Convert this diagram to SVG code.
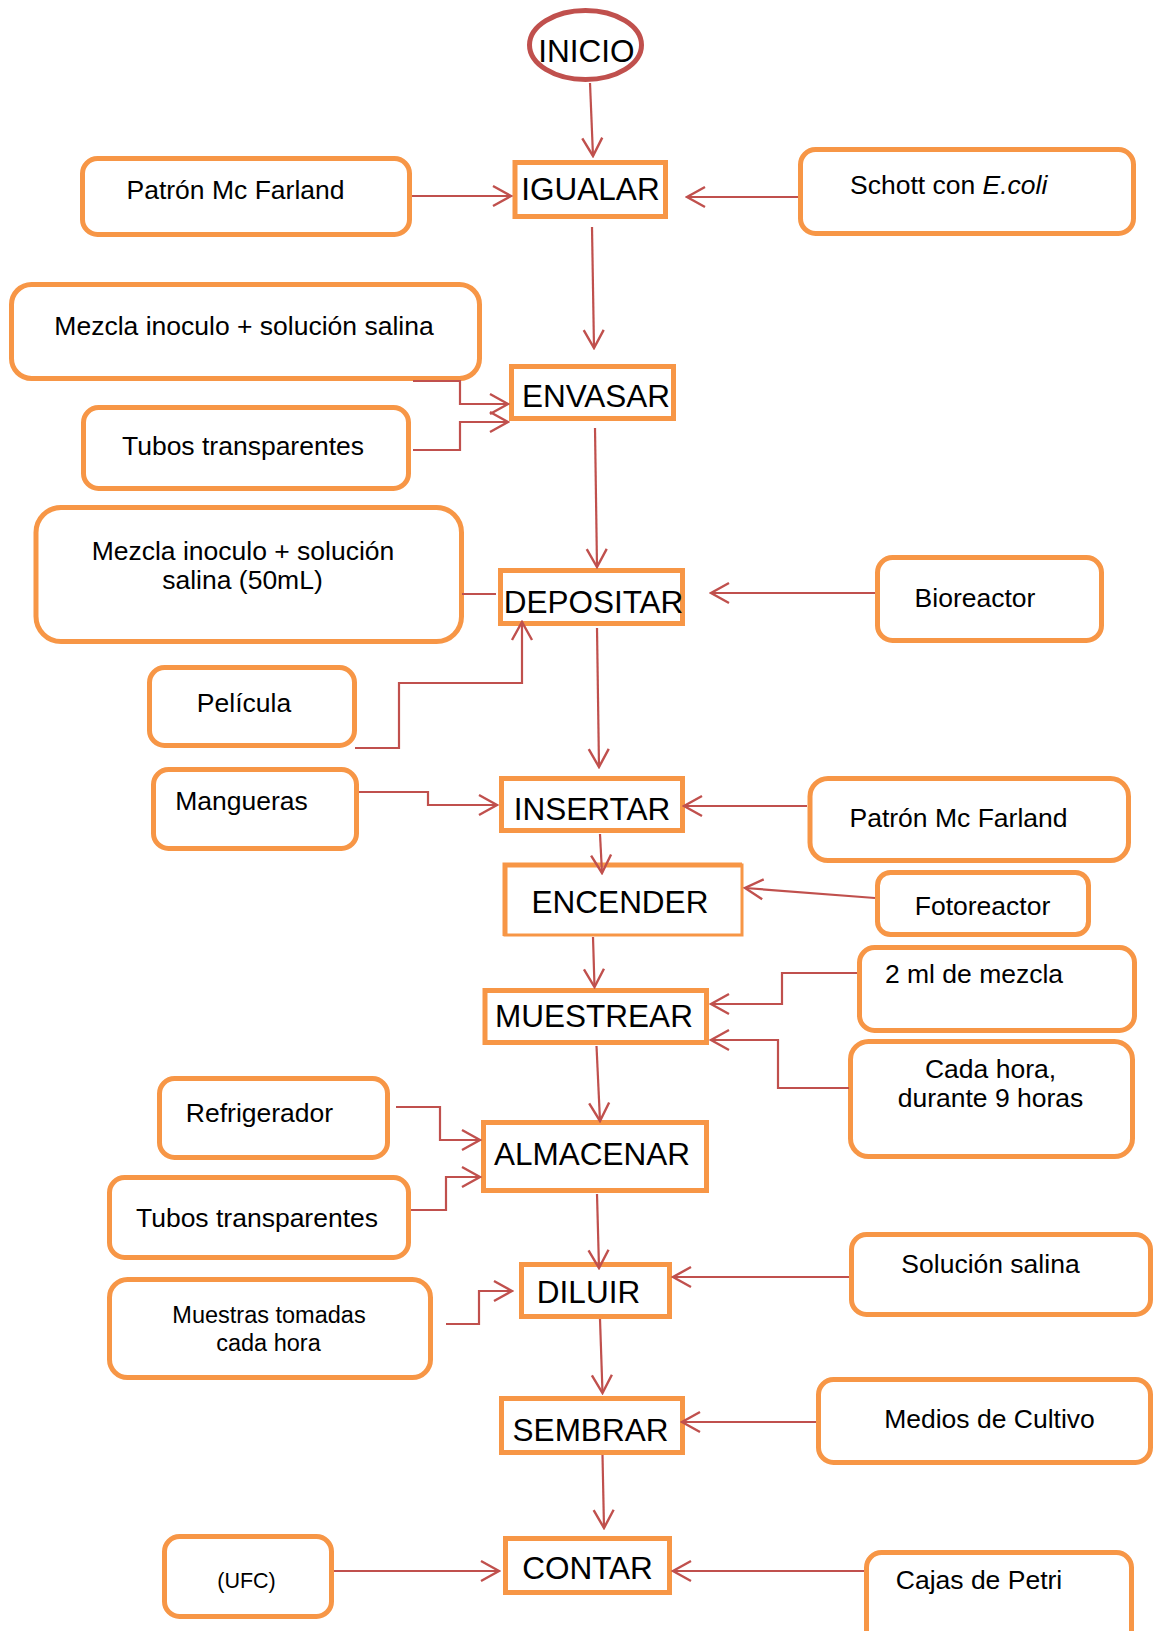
<svg xmlns="http://www.w3.org/2000/svg" width="1155" height="1631" viewBox="0 0 1155 1631">
<style>
.rb{fill:#fff;stroke:#F79646;stroke-width:5}
.pb{fill:#fff;stroke:#F79646;stroke-width:5}
.lbl{font-family:"Liberation Sans",Arial,sans-serif;font-size:26.5px;fill:#000;text-anchor:middle}
.big{font-family:"Liberation Sans",Arial,sans-serif;font-size:31.5px;fill:#000;text-anchor:middle}
.c{fill:none;stroke:#C0504D;stroke-width:2.2}
.a{marker-end:url(#arr)}
</style>
<defs>
<marker id="arr" markerUnits="userSpaceOnUse" viewBox="-22 -13 24 26" refX="0" refY="0" markerWidth="24" markerHeight="26" orient="auto">
<path d="M-18,-10 L0,0 L-18,10" fill="none" stroke="#C0504D" stroke-width="2.4"/>
</marker>
</defs>
<rect width="1155" height="1631" fill="#fff"/>

<g id="inicio">
<ellipse cx="585.5" cy="45" rx="56" ry="34.5" fill="#fff" stroke="#C0504D" stroke-width="5"/>
<text class="big" x="586.5" y="62">INICIO</text>
</g>
<g id="igualar"><rect class="pb" x="515" y="162.5" width="150.5" height="54"/><text class="big" x="590.5" y="200">IGUALAR</text></g>
<g id="envasar"><rect class="pb" x="511.5" y="366.5" width="162" height="52"/><text class="big" x="596" y="407">ENVASAR</text></g>
<g id="depositar"><rect class="pb" x="500.5" y="570.5" width="182" height="53"/><text class="big" x="593.5" y="613">DEPOSITAR</text></g>
<g id="insertar"><rect class="pb" x="501.5" y="778.5" width="181" height="52"/><text class="big" x="592" y="820">INSERTAR</text></g>
<g id="encender"><rect x="505" y="865" width="237" height="70" fill="#fff" stroke="#F79646" stroke-width="3"/><path d="M505,936 V865 H742" fill="none" stroke="#F79646" stroke-width="5"/><text class="big" x="620" y="913">ENCENDER</text></g>
<g id="muestrear"><rect class="pb" x="485" y="990.5" width="221.5" height="52"/><text class="big" x="594" y="1027">MUESTREAR</text></g>
<g id="almacenar"><rect class="pb" x="483.5" y="1122.5" width="223" height="68"/><text class="big" x="592" y="1165">ALMACENAR</text></g>
<g id="diluir"><rect class="pb" x="521.5" y="1264.5" width="148" height="52"/><text class="big" x="588.5" y="1303">DILUIR</text></g>
<g id="sembrar"><rect class="pb" x="501.5" y="1398.5" width="181" height="54"/><text class="big" x="590.5" y="1441">SEMBRAR</text></g>
<g id="contar"><rect class="pb" x="505.5" y="1538.5" width="164" height="54"/><text class="big" x="587.5" y="1579">CONTAR</text></g>

<g id="patron1"><rect class="rb" x="82.5" y="158.5" width="327" height="76" rx="15"/><text class="lbl" x="235.5" y="199">Patrón Mc Farland</text></g>
<g id="schott"><rect class="rb" x="800.5" y="149.5" width="333" height="84" rx="15"/><text class="lbl" x="850" y="194" style="text-anchor:start">Schott con <tspan font-style="italic">E.coli</tspan></text></g>
<g id="mezcla1"><rect class="rb" x="11.5" y="284.5" width="468" height="94" rx="20"/><text class="lbl" x="244" y="335">Mezcla inoculo + solución salina</text></g>
<g id="tubos1"><rect class="rb" x="83.5" y="407.5" width="325" height="81" rx="15"/><text class="lbl" x="243" y="455">Tubos transparentes</text></g>
<g id="mezcla50"><rect class="rb" x="36" y="507.5" width="425.5" height="134" rx="25"/><text class="lbl" x="243" y="560">Mezcla inoculo + solución</text><text class="lbl" x="242.5" y="589">salina (50mL)</text></g>
<g id="pelicula"><rect class="rb" x="149.5" y="667.5" width="205" height="78" rx="15"/><text class="lbl" x="244" y="712">Película</text></g>
<g id="bioreactor"><rect class="rb" x="877.5" y="557.5" width="224" height="83" rx="15"/><text class="lbl" x="975" y="607">Bioreactor</text></g>
<g id="mangueras"><rect class="rb" x="153.5" y="769.5" width="203" height="79" rx="15"/><text class="lbl" x="241.5" y="810">Mangueras</text></g>
<g id="patron2"><rect class="rb" x="810" y="778.5" width="318.5" height="82" rx="18"/><text class="lbl" x="958.5" y="827">Patrón Mc Farland</text></g>
<g id="fotoreactor"><rect class="rb" x="877.5" y="872.5" width="211" height="62" rx="13"/><text class="lbl" x="982.5" y="915">Fotoreactor</text></g>
<g id="mezcla2ml"><rect class="rb" x="859.5" y="947.5" width="275" height="83" rx="15"/><text class="lbl" x="974" y="983">2 ml de mezcla</text></g>
<g id="cadahora"><rect class="rb" x="850.5" y="1041.5" width="282" height="115" rx="18"/><text class="lbl" x="990.5" y="1078">Cada hora,</text><text class="lbl" x="990.5" y="1107">durante 9 horas</text></g>
<g id="refrigerador"><rect class="rb" x="159.5" y="1078.5" width="228" height="79" rx="15"/><text class="lbl" x="259.5" y="1122">Refrigerador</text></g>
<g id="tubos2"><rect class="rb" x="109.5" y="1177.5" width="299" height="80" rx="15"/><text class="lbl" x="257" y="1227">Tubos transparentes</text></g>
<g id="solucion"><rect class="rb" x="851.5" y="1234.5" width="299" height="80" rx="15"/><text class="lbl" x="990.5" y="1273">Solución salina</text></g>
<g id="muestras"><rect class="rb" x="109.5" y="1279.5" width="321" height="98" rx="18"/><text class="lbl" x="269" y="1323" style="font-size:23.5px">Muestras tomadas</text><text class="lbl" x="268.5" y="1351" style="font-size:23.5px">cada hora</text></g>
<g id="medios"><rect class="rb" x="818.5" y="1379.5" width="332" height="83" rx="15"/><text class="lbl" x="989.5" y="1428">Medios de Cultivo</text></g>
<g id="ufc"><rect class="rb" x="164.5" y="1536.5" width="167" height="80" rx="15"/><text class="lbl" x="246.5" y="1588" style="font-size:21.5px">(UFC)</text></g>
<g id="cajas"><rect class="rb" x="866.5" y="1552.5" width="265" height="100" rx="15"/><text class="lbl" x="979" y="1589">Cajas de Petri</text></g>

<g id="connectors">
<path class="c a" d="M590,83 L593,156"/>
<path class="c a" d="M412,196 L511,196"/>
<path class="c a" d="M798,197 L687,197"/>
<path class="c a" d="M592,227 L594,348"/>
<path class="c a" d="M413,381 H460 V404 H508"/>
<path class="c a" d="M413,450 H460 V422 H508"/>
<path class="c a" d="M595,428 L597,567"/>
<path class="c" d="M462,594 L496,594"/>
<path class="c a" d="M355,748 H399 V683 H522 V622"/>
<path class="c a" d="M875,593 L711,593"/>
<path class="c a" d="M597,628 L599,767"/>
<path class="c a" d="M359,792 H428 V805 H497"/>
<path class="c a" d="M807,806 L684,806"/>
<path class="c a" d="M600,834 L602,873"/>
<path class="c a" d="M875,898 L745,888"/>
<path class="c a" d="M593,937 L594.5,987"/>
<path class="c a" d="M857,973 H782 V1004 H711"/>
<path class="c a" d="M849,1088 H778 V1040 H711"/>
<path class="c a" d="M596.5,1046 L600,1121"/>
<path class="c a" d="M396,1107 H440 V1140 H480"/>
<path class="c a" d="M411,1210 H446 V1177 H480"/>
<path class="c a" d="M597,1194 L599,1268"/>
<path class="c a" d="M849,1277 L673,1277"/>
<path class="c a" d="M446,1324 H479 V1291 H512"/>
<path class="c a" d="M600,1319 L602.5,1393"/>
<path class="c a" d="M816,1422 L682,1422"/>
<path class="c a" d="M602.5,1455 L604,1528"/>
<path class="c a" d="M334,1571 L499,1571"/>
<path class="c a" d="M864,1571 L673,1571"/>
</g>
</svg>
